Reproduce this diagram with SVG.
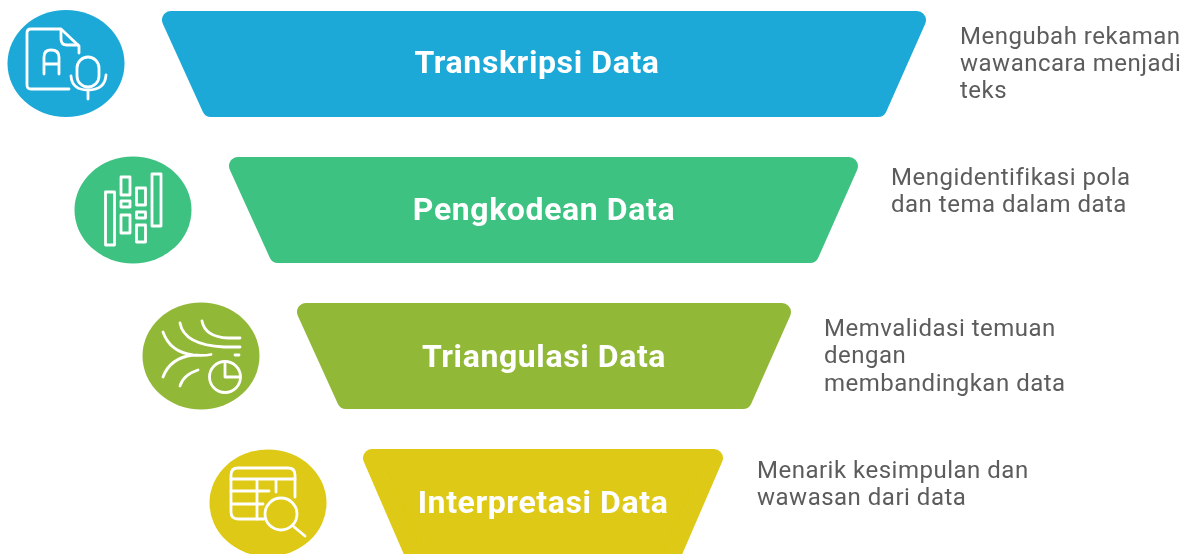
<svg xmlns="http://www.w3.org/2000/svg" width="1191" height="554" viewBox="0 0 1191 554">
<defs><filter id="soft" x="-2%" y="-2%" width="104%" height="104%"><feGaussianBlur stdDeviation="0.5"/></filter></defs>
<style>
.t{font-family:Roboto,"Liberation Sans",sans-serif;font-weight:700;font-size:32px;letter-spacing:.6px;fill:#fff;text-anchor:middle}
.d{font-family:Roboto,"Liberation Sans",sans-serif;font-size:24px;letter-spacing:.5px;fill:#5c5c5c}
.i{fill:none;stroke:#fff;stroke-width:2.8;stroke-linecap:round;stroke-linejoin:round}
.b{stroke-linejoin:round;stroke-width:18}
</style>
<rect width="1191" height="554" fill="#fff"/>
<g filter="url(#soft)">
<g id="node-transkripsi">
<ellipse cx="66" cy="63.500" rx="58.500" ry="53.500" fill="#1ca9d7"/>
<g class="i"><path d="M69 89H31Q27 89 27 85V33Q27 29 31 29H61L79 46V53"/><path d="M61 30V39Q61 45 67 45H78"/><path d="M44 74V57Q44 50 51 50Q59 50 59 57V74M44 64H59"/><rect x="77" y="57" width="22" height="30" rx="11"/><path d="M71 76Q72 90 88 90Q105 90 106 75M88 90V99"/></g>
<path class="b" d="M171 20H917L878 108H211Z" fill="#1ca9d7" stroke="#1ca9d7"/>
<text class="t" x="537" y="73">Transkripsi Data</text>
<text class="d"><tspan x="960" y="44">Mengubah rekaman</tspan><tspan x="960" y="71">wawancara menjadi</tspan><tspan x="960" y="98">teks</tspan></text>
</g>
<g id="node-pengkodean">
<ellipse cx="133" cy="210" rx="58.500" ry="53.500" fill="#3dc282"/>
<g class="i"><rect x="105.500" y="192" width="9" height="53"/><rect x="121" y="177" width="9" height="18"/><rect x="121" y="201" width="9" height="6"/><rect x="121" y="215" width="9" height="18"/><rect x="136.500" y="188" width="9" height="17"/><rect x="136.500" y="212" width="9" height="6"/><rect x="136.500" y="225" width="9" height="17"/><rect x="152" y="174" width="9" height="52"/></g>
<path class="b" d="M238 166H849L810 254H278Z" fill="#3dc282" stroke="#3dc282"/>
<text class="t" x="544" y="220">Pengkodean Data</text>
<text class="d"><tspan x="891" y="185">Mengidentifikasi pola</tspan><tspan x="891" y="212">dan tema dalam data</tspan></text>
</g>
<g id="node-triangulasi">
<ellipse cx="201" cy="356" rx="58.500" ry="53.500" fill="#92b838"/>
<g class="i"><path d="M163 332Q170 352 193 355Q204 356 211 354.500M163 377Q170 358 193 355"/><path d="M180 323Q184 345 224 347Q231 347 240 347"/><path d="M202 321Q205 337 228 338Q234 338 240 338"/><path d="M235 355H239"/><path d="M180 386Q183 375 198 370"/><circle cx="225" cy="377" r="15.500"/><path d="M225 364V377H240"/></g>
<path class="b" d="M306 312H782L743 400H346Z" fill="#92b838" stroke="#92b838"/>
<text class="t" x="544" y="367">Triangulasi Data</text>
<text class="d"><tspan x="824" y="336">Memvalidasi temuan</tspan><tspan x="824" y="363">dengan</tspan><tspan x="824" y="391">membandingkan data</tspan></text>
</g>
<g id="node-interpretasi">
<ellipse cx="268" cy="503" rx="58.500" ry="53.500" fill="#dec912"/>
<g class="i"><path d="M264 519H238Q231 519 231 512V475Q231 468 238 468H288Q295 468 295 475V497"/><path d="M231 479H295M231 491H269M231 504H263M257 479V519M276 479V492"/><circle cx="281" cy="514" r="16"/><path d="M293 526L305 536"/></g>
<path class="b" d="M372 458H714L669 562H417Z" fill="#dec912" stroke="#dec912"/>
<text class="t" x="543" y="513">Interpretasi Data</text>
<text class="d"><tspan x="757" y="478">Menarik kesimpulan dan</tspan><tspan x="757" y="505">wawasan dari data</tspan></text>
</g>
</g>
</svg>
